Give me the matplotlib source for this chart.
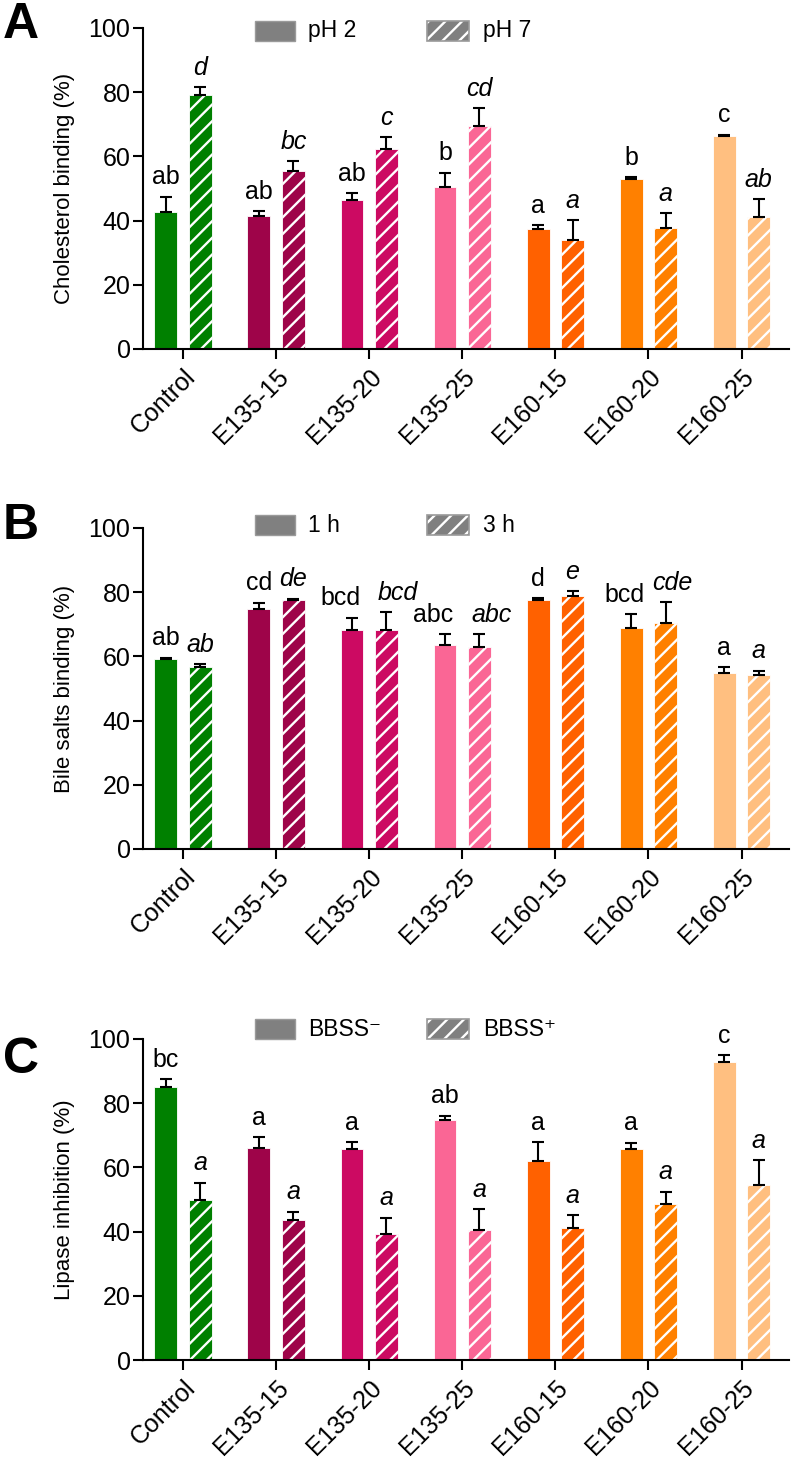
import numpy as np
import matplotlib
matplotlib.use("Agg")
import matplotlib.pyplot as plt
from matplotlib.patches import Rectangle

plt.rcParams['font.family'] = ['Liberation Sans', 'DejaVu Sans']
plt.rcParams['hatch.linewidth'] = 1.7

samples = ['Control', 'E135-15', 'E135-20', 'E135-25', 'E160-15', 'E160-20', 'E160-25']
colors = ['#008000', '#9E0449', '#CC0A62', '#FA6695', '#FF6100', '#FF8000', '#FFBF80']

# panel A: cholesterol binding
chol_ph2 = [42.7, 41.4, 46.3, 50.6, 37.4, 52.9, 66.4]
chol_ph2_err = [4.7, 1.5, 2.2, 4.3, 1.1, 0.6, 0.4]
chol_ph7 = [79.1, 55.3, 62.2, 69.6, 34.0, 37.6, 41.1]
chol_ph7_err = [2.4, 3.3, 3.7, 5.4, 6.2, 4.7, 5.5]
chol_ph2_letters = ['ab', 'ab', 'ab', 'b', 'a', 'b', 'c']
chol_ph7_letters = ['d', 'bc', 'c', 'cd', 'a', 'a', 'ab']

# panel B: bile salts binding
bile_1h = [59.2, 74.8, 68.1, 63.6, 77.7, 68.8, 54.7]
bile_1h_err = [0.4, 1.9, 4.0, 3.4, 0.5, 4.4, 1.9]
bile_3h = [56.6, 77.6, 68.3, 62.8, 78.8, 70.5, 54.1]
bile_3h_err = [1.0, 0.4, 5.4, 4.2, 1.6, 6.3, 1.5]
bile_1h_letters = ['ab', 'cd', 'bcd', 'abc', 'd', 'bcd', 'a']
bile_3h_letters = ['ab', 'de', 'bcd', 'abc', 'e', 'cde', 'a']

# panel C: lipase inhibition
lip_minus = [85.0, 66.0, 65.6, 74.7, 62.0, 65.6, 92.9]
lip_minus_err = [2.4, 3.5, 2.2, 1.4, 5.9, 2.1, 2.1]
lip_plus = [49.7, 43.6, 39.2, 40.5, 41.0, 48.5, 54.4]
lip_plus_err = [5.5, 2.6, 5.1, 6.4, 4.1, 3.9, 7.9]
lip_minus_letters = ['bc', 'a', 'a', 'ab', 'a', 'a', 'c']
lip_plus_letters = ['a', 'a', 'a', 'a', 'a', 'a', 'a']

# sideways nudge of the letter pairs that would collide (panel B only)
nudge_b = [0, 0, 0.12, 0.13, 0, 0.075, 0]
no_nudge = [0] * 7

panels = [
    ('A', 'Cholesterol binding (%)', ('pH 2', 'pH 7'),
     chol_ph2, chol_ph2_err, chol_ph7, chol_ph7_err, chol_ph2_letters, chol_ph7_letters, no_nudge),
    ('B', 'Bile salts binding (%)', ('1 h', '3 h'),
     bile_1h, bile_1h_err, bile_3h, bile_3h_err, bile_1h_letters, bile_3h_letters, nudge_b),
    ('C', 'Lipase inhibition (%)', ('BBSS\u207b', 'BBSS\u207a'),
     lip_minus, lip_minus_err, lip_plus, lip_plus_err, lip_minus_letters, lip_plus_letters, no_nudge),
]

W, H = 791, 1464
fig = plt.figure(figsize=(W / 100, H / 100), dpi=100)

ax_bottoms = [349, 849, 1360]      # pixel row of y=0
letter_tops = [2, 503, 1037]
legend_bottoms = [0.96, 0.978, 1.0]

x = np.arange(len(samples))
bw = 0.245
off = 0.185

for i, (letter, ylabel, leg, v1, e1, v2, e2, l1, l2, nudge) in enumerate(panels):
    ax = fig.add_axes([143 / W, 1 - ax_bottoms[i] / H, 646 / W, 321 / H])

    ax.bar(x - off, v1, bw, color=colors, edgecolor='white', linewidth=0.6, zorder=2)
    ax.bar(x + off, v2, bw, color=colors, edgecolor='white', linewidth=0.6, hatch='//', zorder=2)
    ax.errorbar(x - off, v1, yerr=[np.zeros(len(v1)), e1], fmt='none', ecolor='black',
                elinewidth=1.5, capsize=4.5, capthick=1.5, zorder=3)
    ax.errorbar(x + off, v2, yerr=[np.zeros(len(v2)), e2], fmt='none', ecolor='black',
                elinewidth=1.5, capsize=4.5, capthick=1.5, zorder=3)

    for j in range(len(samples)):
        ax.text(x[j] - off - nudge[j], v1[j] + e1[j] + 2.3, l1[j], ha='center', va='bottom',
                fontsize=18)
        ax.text(x[j] + off + nudge[j], v2[j] + e2[j] + 2.3, l2[j], ha='center', va='bottom',
                fontsize=18, style='italic')

    ax.set_xlim(-0.43, 6.51)
    ax.set_ylim(0, 100)
    ax.set_yticks([0, 20, 40, 60, 80, 100])
    ax.set_xticks(x)
    ax.set_xticklabels(samples, rotation=45, ha='right', rotation_mode='anchor')
    ax.tick_params(axis='both', labelsize=18, width=1.5, length=7, color='black')
    ax.tick_params(axis='x', pad=4)
    ax.tick_params(axis='y', pad=2)
    ax.set_ylabel(ylabel, fontsize=16, labelpad=10)
    for s in ['top', 'right']:
        ax.spines[s].set_visible(False)
    for s in ['left', 'bottom']:
        ax.spines[s].set_linewidth(1.5)
    ax.patch.set_alpha(0)

    # legend, drawn by hand to keep fixed slots
    yb = legend_bottoms[i]
    hh = 20 / 321
    ax.add_patch(Rectangle(((255 - 143) / 646, yb), 40 / 646, hh, transform=ax.transAxes,
                           facecolor='#808080', edgecolor='#9a9a9a', linewidth=1, clip_on=False))
    ax.add_patch(Rectangle(((427 - 143) / 646, yb), 42 / 646, hh, transform=ax.transAxes,
                           facecolor='#808080', edgecolor='white', linewidth=0, hatch='//',
                           clip_on=False))
    ax.add_patch(Rectangle(((427 - 143) / 646, yb), 42 / 646, hh, transform=ax.transAxes,
                           facecolor='none', edgecolor='#9a9a9a', linewidth=1.2, clip_on=False))
    ax.text((308 - 143) / 646, yb + hh / 2, leg[0], transform=ax.transAxes, fontsize=16.5,
            va='center', ha='left')
    ax.text((483 - 143) / 646, yb + hh / 2, leg[1], transform=ax.transAxes, fontsize=16.5,
            va='center', ha='left')

    fig.text(3 / W, 1 - letter_tops[i] / H, letter, fontsize=36, fontweight='bold',
             ha='left', va='top')

fig.savefig('out.png', dpi=100)
